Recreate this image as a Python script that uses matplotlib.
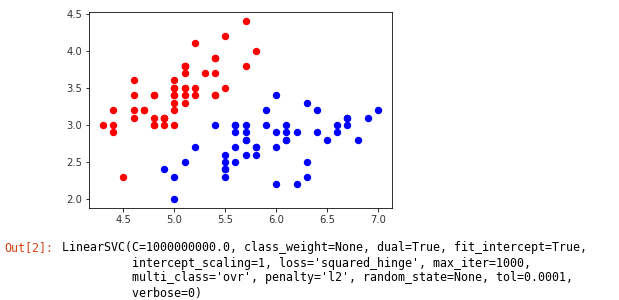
import matplotlib
matplotlib.use("Agg")
import matplotlib.pyplot as plt

# Sepal length / width of the first two iris classes
setosa_x = [5.1, 4.9, 4.7, 4.6, 5.0, 5.4, 4.6, 5.0, 4.4, 4.9, 5.4, 4.8, 4.8, 4.3, 5.8,
            5.7, 5.4, 5.1, 5.7, 5.1, 5.4, 5.1, 4.6, 5.1, 4.8, 5.0, 5.0, 5.2, 5.2, 4.7,
            4.8, 5.4, 5.2, 5.5, 4.9, 5.0, 5.5, 4.9, 4.4, 5.1, 5.0, 4.5, 4.4, 5.0, 5.1,
            4.8, 5.1, 4.6, 5.3, 5.0]
setosa_y = [3.5, 3.0, 3.2, 3.1, 3.6, 3.9, 3.4, 3.4, 2.9, 3.1, 3.7, 3.4, 3.0, 3.0, 4.0,
            4.4, 3.9, 3.5, 3.8, 3.8, 3.4, 3.7, 3.6, 3.3, 3.4, 3.0, 3.4, 3.5, 3.4, 3.2,
            3.1, 3.4, 4.1, 4.2, 3.1, 3.2, 3.5, 3.1, 3.0, 3.4, 3.5, 2.3, 3.2, 3.5, 3.8,
            3.0, 3.8, 3.2, 3.7, 3.3]
versi_x = [7.0, 6.4, 6.9, 5.5, 6.5, 5.7, 6.3, 4.9, 6.6, 5.2, 5.0, 5.9, 6.0, 6.1, 5.6,
           6.7, 5.6, 5.8, 6.2, 5.6, 5.9, 6.1, 6.3, 6.1, 6.4, 6.6, 6.8, 6.7, 6.0, 5.7,
           5.5, 5.5, 5.8, 6.0, 5.4, 6.0, 6.7, 6.3, 5.6, 5.5, 5.5, 6.1, 5.8, 5.0, 5.6,
           5.7, 5.7, 6.2, 5.1, 5.7]
versi_y = [3.2, 3.2, 3.1, 2.3, 2.8, 2.8, 3.3, 2.4, 2.9, 2.7, 2.0, 3.0, 2.2, 2.9, 2.9,
           3.1, 3.0, 2.7, 2.2, 2.5, 3.2, 2.8, 2.5, 2.8, 2.9, 3.0, 2.8, 3.0, 2.9, 2.6,
           2.4, 2.4, 2.7, 2.7, 3.0, 3.4, 3.1, 2.3, 3.0, 2.5, 2.6, 3.0, 2.6, 2.3, 2.7,
           3.0, 2.9, 2.9, 2.5, 2.8]

out_prompt = "Out[2]:"
out_lines = [
    "LinearSVC(C=1000000000.0, class_weight=None, dual=True, fit_intercept=True,",
    "          intercept_scaling=1, loss='squared_hinge', max_iter=1000,",
    "          multi_class='ovr', penalty='l2', random_state=None, tol=0.0001,",
    "          verbose=0)",
]

S = 0.72  # original was rendered at 72 dpi
fig = plt.figure(figsize=(6.19, 3.0), dpi=100)
ax = fig.add_axes([89.3 / 619, 1 - 208 / 300, (391.7 - 89.3) / 619, (208 - 12.3) / 300])
ax.scatter(setosa_x, setosa_y, color="red", s=36 * S * S)
ax.scatter(versi_x, versi_y, color="blue", s=36 * S * S)
ax.set_xticks([4.5, 5.0, 5.5, 6.0, 6.5, 7.0])
ax.set_yticks([2.0, 2.5, 3.0, 3.5, 4.0, 4.5])
ax.tick_params(labelsize=10 * S, length=3.5 * S, width=0.8 * S, pad=3.5 * S,
               labelcolor="#333333")
for sp in ax.spines.values():
    sp.set_linewidth(0.8 * S)

fs = 8.4
fig.text(4 / 619, 1 - 248 / 300, out_prompt, family="DejaVu Sans Mono", fontsize=fs,
         color="#D84315", va="center", ha="left")
for i, line in enumerate(out_lines):
    fig.text(62 / 619, 1 - (248 + 15 * i) / 300, line, family="DejaVu Sans Mono",
             fontsize=fs, color="black", va="center", ha="left")

fig.savefig("out.png", dpi=100)
